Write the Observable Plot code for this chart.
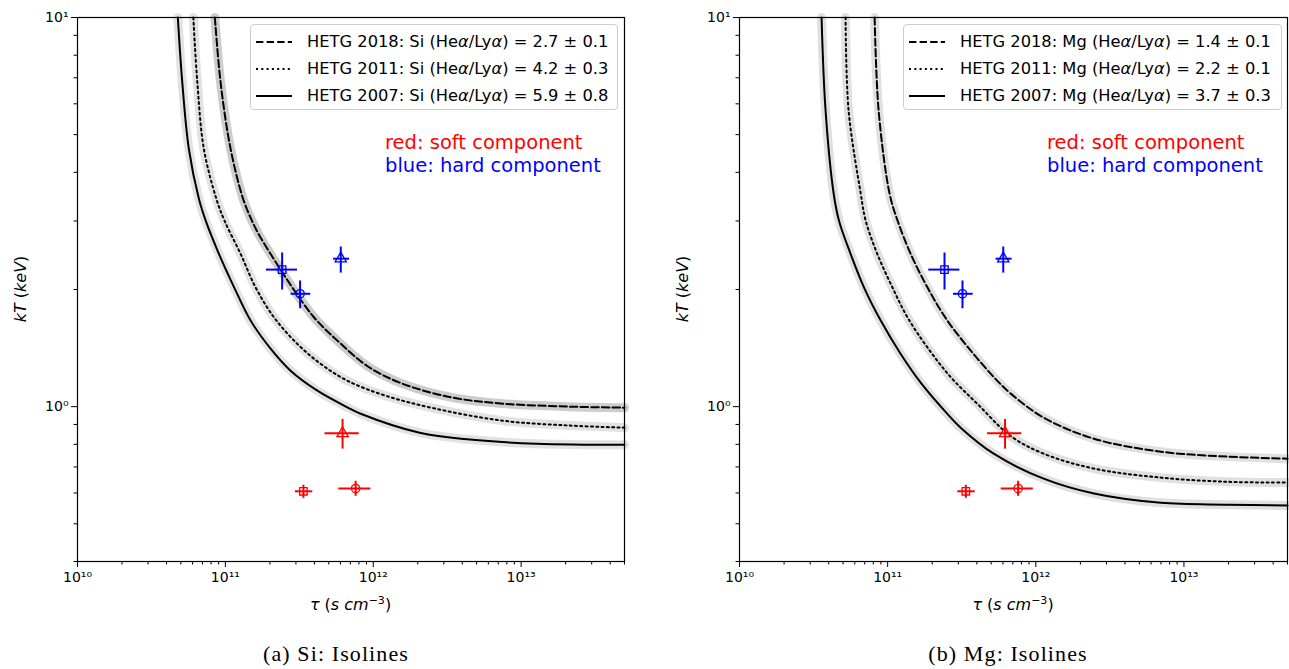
<!DOCTYPE html>
<html>
<head>
<meta charset="utf-8">
<script src="https://cdn.jsdelivr.net/npm/d3@7"></script>
<script src="https://cdn.jsdelivr.net/npm/@observablehq/plot@0.6"></script>
<style>
  html, body { margin: 0; padding: 0; background: #fff; }
  #root { position: relative; width: 1289px; height: 669px; background: #fff; font-family: "DejaVu Sans", sans-serif; color: #000; }
  .abs { position: absolute; }
  .legend { position: absolute; border: 1px solid #cccccc; border-radius: 4px; background: rgba(255,255,255,0.85); box-sizing: border-box; }
  .legrow { position: absolute; left: 0; height: 22px; font-size: 16.3px; line-height: 22px; white-space: nowrap; }
  .legrow svg { position: absolute; left: 4px; top: 6px; }
  .legrow span { position: absolute; left: 56px; top: 0; }
  .note { position: absolute; font-size: 19.5px; white-space: nowrap; line-height: 23px; }
  .xlab { position: absolute; font-size: 16px; white-space: nowrap; transform: translateX(-50%); }
  .ylab { position: absolute; font-size: 16px; white-space: nowrap; transform: translate(-50%,-50%) rotate(-90deg); }
  .cap { position: absolute; font-family: "Liberation Serif", serif; font-size: 22px; letter-spacing: 1.1px; white-space: nowrap; transform: translateX(-50%); }
</style>
</head>
<body>
<div id="root"></div>
<script>
// ---------------- data ----------------
// Si isolines (tau in s cm^-3, kT in keV)
const siTau2018 = [8.49e10, 9.28e10, 1.084e11, 1.318e11, 1.509e11, 1.675e11, 2.019e11, 2.83e11, 3.97e11, 5.72e11, 9.16e11, 1.57e12, 3.44e12, 7.55e12, 2.15e13, 5.0e13];
const siKT2018  = [10, 6.82, 4.60, 3.42, 3.01, 2.78, 2.47, 2.026, 1.697, 1.478, 1.27, 1.146, 1.055, 1.018, 1.0, 0.994];
const siTau2011 = [6.07e10, 6.46e10, 7.15e10, 8.69e10, 9.85e10, 1.267e11, 1.60e11, 2.13e11, 3.07e11, 4.41e11, 6.68e11, 1.21e12, 2.64e12, 7.55e12, 2.15e13, 5.0e13];
const siKT2011  = [10, 6.82, 4.60, 3.42, 3.01, 2.47, 2.026, 1.697, 1.449, 1.288, 1.166, 1.067, 0.988, 0.920, 0.894, 0.883];
const siTau2007 = [4.77e10, 5.11e10, 5.66e10, 6.62e10, 7.35e10, 9.04e10, 1.146e11, 1.481e11, 1.99e11, 2.76e11, 4.19e11, 6.68e11, 8.22e11, 2.06e12, 4.50e12, 1.27e13, 5.0e13];
const siKT2007  = [10, 6.82, 4.60, 3.42, 3.01, 2.47, 2.026, 1.664, 1.42, 1.237, 1.099, 0.996, 0.959, 0.857, 0.823, 0.803, 0.798];

// Mg isolines
const mgTau2018 = [8.17e10, 8.69e10, 1.03e11, 1.165e11, 1.43e11, 1.855e11, 2.53e11, 3.64e11, 5.22e11, 6.78e11, 1.13e12, 2.47e12, 7.0e12, 1.98e13, 5.0e13];
const mgKT2018  = [10, 5.77, 3.53, 3.01, 2.47, 2.026, 1.664, 1.393, 1.19, 1.08, 0.937, 0.827, 0.766, 0.744, 0.735];
const mgTau2011 = [5.2e10, 5.45e10, 6.58e10, 7.10e10, 8.51e10, 1.076e11, 1.36e11, 1.855e11, 2.67e11, 4.04e11, 6.78e11, 1.13e12, 2.47e12, 7.0e12, 1.98e13, 5.0e13];
const mgKT2011  = [10, 5.77, 3.53, 3.01, 2.47, 2.026, 1.697, 1.42, 1.19, 1.016, 0.84, 0.757, 0.693, 0.657, 0.641, 0.638];
const mgTau2007 = [3.58e10, 3.81e10, 4.32e10, 4.69e10, 5.62e10, 6.92e10, 8.98e10, 1.225e11, 1.697e11, 2.53e11, 3.11e11, 5.20e11, 1.13e12, 2.47e12, 7.0e12, 1.98e13, 5.0e13];
const mgKT2007  = [10, 5.77, 3.53, 3.01, 2.47, 2.026, 1.664, 1.366, 1.144, 0.958, 0.883, 0.757, 0.653, 0.598, 0.566, 0.560, 0.557];

// Measured components (same in both panels)
const component = ["hard", "hard", "hard", "soft", "soft", "soft"];
const obsId     = ["A", "B", "C", "C", "A", "B"];
const tauVal = [2.42e11, 3.20e11, 6.03e11, 6.20e11, 3.37e11, 7.60e11];
const tauLo  = [1.88e11, 2.76e11, 5.35e11, 4.68e11, 2.95e11, 5.80e11];
const tauHi  = [3.05e11, 3.75e11, 6.86e11, 7.98e11, 3.87e11, 9.55e11];
const kTVal  = [2.25, 1.95, 2.40, 0.854, 0.606, 0.616];
const kTLo   = [2.00, 1.79, 2.21, 0.78, 0.583, 0.59];
const kTHi   = [2.49, 2.11, 2.58, 0.93, 0.63, 0.645];

// Legend / text
const years = ["2018", "2011", "2007"];
const siLegend = ["HETG 2018: Si (Heα/Lyα) = 2.7 ± 0.1", "HETG 2011: Si (Heα/Lyα) = 4.2 ± 0.3", "HETG 2007: Si (Heα/Lyα) = 5.9 ± 0.8"];
const mgLegend = ["HETG 2018: Mg (Heα/Lyα) = 1.4 ± 0.1", "HETG 2011: Mg (Heα/Lyα) = 2.2 ± 0.1", "HETG 2007: Mg (Heα/Lyα) = 3.7 ± 0.3"];
const noteSoft = "red: soft component";
const noteHard = "blue: hard component";
const captions = ["(a) Si: Isolines", "(b) Mg: Isolines"];

// Ticks
const xDomain = [1e10, 5e13];
const yDomain = [0.4, 10];
const xMajor = [1e10, 1e11, 1e12, 1e13];
const yMajor = [1, 10];
const xMinor = [];
for (let e = 10; e <= 13; e++) for (let m = 2; m <= 9; m++) { const v = m * 10 ** e; if (v <= xDomain[1]) xMinor.push(v); }
const yMinor = [];
for (let e = -1; e <= 0; e++) for (let m = 2; m <= 9; m++) { const v = m * 10 ** e; if (v >= yDomain[0] && v <= yDomain[1]) yMinor.push(v); }

// ---------------- build ----------------
const supMap = {"0":"⁰","1":"¹","2":"²","3":"³","4":"⁴","5":"⁵","6":"⁶","7":"⁷","8":"⁸","9":"⁹","-":"⁻"};
const sup = v => "10" + String(Math.round(Math.log10(v))).split("").map(c => supMap[c]).join("");

const points = tauVal.map((t, i) => ({component: component[i], obs: obsId[i], tau: t, tauLo: tauLo[i], tauHi: tauHi[i], kT: kTVal[i], kTLo: kTLo[i], kTHi: kTHi[i]}));

const dash = {"2018": "7.4,3.2", "2011": "2,3.3", "2007": null};

function makePlot(curves, bandColors, width, marginRight) {
  const marks = [];
  curves.forEach((c, k) => {
    const rows = c.tau.map((t, i) => ({tau: t, kT: c.kT[i]}));
    marks.push(Plot.line(rows, {x: "tau", y: "kT", stroke: bandColors[k], strokeWidth: 9, curve: "catmull-rom"}));
  });
  curves.forEach(c => {
    const rows = c.tau.map((t, i) => ({tau: t, kT: c.kT[i]}));
    marks.push(Plot.line(rows, {x: "tau", y: "kT", stroke: "#000", strokeWidth: 2, strokeDasharray: dash[c.year], curve: "catmull-rom"}));
  });
  marks.push(Plot.link(points, {x1: "tauLo", x2: "tauHi", y1: "kT", y2: "kT", stroke: "component", strokeWidth: 2}));
  marks.push(Plot.link(points, {x1: "tau", x2: "tau", y1: "kTLo", y2: "kTHi", stroke: "component", strokeWidth: 2}));
  marks.push(Plot.dot(points, {x: "tau", y: "kT", symbol: "obs", stroke: "component", fill: "none", r: 4.2, strokeWidth: 1.3}));
  marks.push(Plot.frame({stroke: "#000", strokeWidth: 1.2}));
  marks.push(Plot.axisX({ticks: xMajor, tickSize: 6, tickPadding: 5, tickFormat: sup, label: null, fontSize: 14}));
  marks.push(Plot.axisX({ticks: xMinor, tickSize: 3.5, tickFormat: () => "", label: null}));
  marks.push(Plot.axisY({ticks: yMajor, tickSize: 6, tickPadding: 3, tickFormat: sup, label: null, fontSize: 14}));
  marks.push(Plot.axisY({ticks: yMinor, tickSize: 3.5, tickFormat: () => "", label: null}));
  return Plot.plot({
    width: width, height: 619,
    marginLeft: 60, marginRight: marginRight, marginTop: 15, marginBottom: 60,
    x: {type: "log", domain: xDomain},
    y: {type: "log", domain: yDomain},
    color: {domain: ["soft", "hard"], range: ["#ff0000", "#0000ff"]},
    symbol: {domain: ["A", "B", "C"], range: ["square", "circle", "triangle"]},
    style: {fontFamily: "DejaVu Sans", fontSize: "14px", color: "#000", background: "transparent", overflow: "visible"},
    marks: marks
  });
}

const root = document.getElementById("root");

function addEl(cls, html, css) {
  const d = document.createElement("div");
  d.className = cls;
  d.innerHTML = html;
  Object.assign(d.style, css);
  root.appendChild(d);
  return d;
}

function addLegend(labels, left, top, width) {
  const box = addEl("legend", "", {left: left + "px", top: top + "px", width: width + "px", height: "86px"});
  labels.forEach((lab, i) => {
    const row = document.createElement("div");
    row.className = "legrow";
    row.style.top = (6 + i * 27) + "px";
    const da = dash[years[i]];
    row.innerHTML = `<svg width="40" height="10"><line x1="1" x2="37" y1="5" y2="5" stroke="#000" stroke-width="2" ${da ? `stroke-dasharray="${da}"` : ""}/></svg>` +
      `<span>${lab.replace(/α/g, "<i>α</i>")}</span>`;
    box.appendChild(row);
  });
}

const panels = [
  {left: 17, width: 617, mr: 10, frameL: 77, frameR: 624, capX: 336,
   curves: [{year: "2018", tau: siTau2018, kT: siKT2018}, {year: "2011", tau: siTau2011, kT: siKT2011}, {year: "2007", tau: siTau2007, kT: siKT2007}],
   bands: ["#cdcdcd", "#e2e2e2", "#e2e2e2"], legend: siLegend, legL: 250, legW: 368, noteL: 385, ylabX: 20, cap: captions[0]},
  {left: 679, width: 610, mr: 2, frameL: 739, frameR: 1287, capX: 1008,
   curves: [{year: "2018", tau: mgTau2018, kT: mgKT2018}, {year: "2011", tau: mgTau2011, kT: mgKT2011}, {year: "2007", tau: mgTau2007, kT: mgKT2007}],
   bands: ["#e0e0e0", "#e0e0e0", "#e0e0e0"], legend: mgLegend, legL: 903, legW: 379, noteL: 1047, ylabX: 682, cap: captions[1]}
];

panels.forEach(p => {
  const holder = document.createElement("div");
  holder.className = "abs";
  holder.style.left = p.left + "px";
  holder.style.top = "2px";
  holder.appendChild(makePlot(p.curves, p.bands, p.width, p.mr));
  root.appendChild(holder);
  addLegend(p.legend, p.legL, 24, p.legW);
  addEl("note", noteSoft, {left: p.noteL + "px", top: "131px", color: "#ff0000"});
  addEl("note", noteHard, {left: p.noteL + "px", top: "154px", color: "#0000ff"});
  const cx = (p.frameL + p.frameR) / 2;
  addEl("xlab", "<i>τ</i> (<i>s cm</i><sup style='font-size:11px'>−3</sup>)", {left: cx + "px", top: "594px"});
  addEl("ylab", "<i>kT</i> (<i>keV</i>)", {left: p.ylabX + "px", top: "289px"});
  addEl("cap", p.cap, {left: p.capX + "px", top: "641px"});
});
</script>
</body>
</html>
